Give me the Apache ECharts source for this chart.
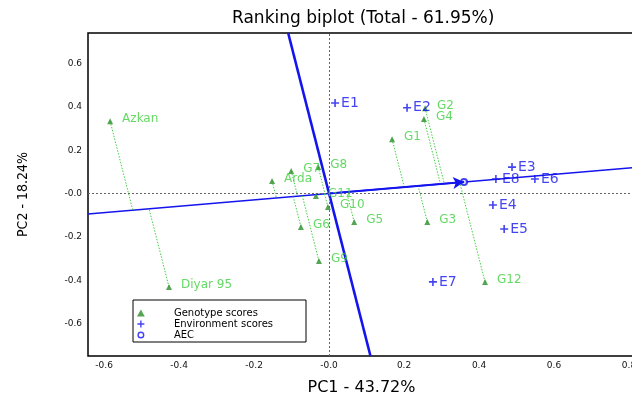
<!DOCTYPE html>
<html>
<head>
<meta charset="utf-8">
<script src="https://cdn.jsdelivr.net/npm/echarts@6/dist/echarts.min.js"></script>
<style>
html,body{margin:0;padding:0;background:#fff;}
#chart{width:632px;height:394px;}
</style>
</head>
<body>
<div id="chart"></div>
<script>
// ---- data ----
const genotypeNames = ['Azkan','Diyar 95','Arda','G1','G2','G3','G4','G5','G6','G7','G8','G9','G10','G11','G12'];
const genotypeX = [-0.584,-0.427,-0.152,0.168,0.256,0.262,0.253,0.067,-0.075,-0.101,-0.029,-0.027,-0.003,-0.035,0.416];
const genotypeY = [0.334,-0.431,0.058,0.251,0.394,-0.131,0.344,-0.131,-0.154,0.104,0.122,-0.312,-0.062,-0.011,-0.408];

const environmentNames = ['E1','E2','E3','E4','E5','E6','E7','E8'];
const environmentX = [0.016,0.208,0.488,0.437,0.467,0.549,0.277,0.445];
const environmentY = [0.418,0.396,0.122,-0.053,-0.164,0.067,-0.408,0.067];

const aecPoint = [0.36, 0.053];

const xTicks = [-0.6,-0.4,-0.2,0,0.2,0.4,0.6,0.8];
const yTicks = [-0.6,-0.4,-0.2,0,0.2,0.4,0.6];
const xRange = [-0.643, 0.816];
const yRange = [-0.750, 0.741];

const titleText = 'Ranking biplot (Total - 61.95%)';
const xName = 'PC1 - 43.72%';
const yName = 'PC2 - 18.24%';
const legendNames = ['Genotype scores','Environment scores','AEC'];

// ---- helpers ----
function tickFmt(v){ return Math.abs(v) < 1e-9 ? '-0.0' : v.toFixed(1); }
function project(p){
  const d = aecPoint[0]*aecPoint[0] + aecPoint[1]*aecPoint[1];
  const t = (p[0]*aecPoint[0] + p[1]*aecPoint[1]) / d;
  return [t*aecPoint[0], t*aecPoint[1]];
}
const slope = aecPoint[1]/aecPoint[0];
const abscissa = [[xRange[0], xRange[0]*slope],[xRange[1], xRange[1]*slope]];
const ordinate = [[-yRange[1]*slope, yRange[1]],[-yRange[0]*slope, yRange[0]]];

const genoPts = genotypeNames.map((n,i)=>[genotypeX[i], genotypeY[i]]);
const genoData = genotypeNames.map((n,i)=>({name:n, value:genoPts[i]}));
const envData = environmentNames.map((n,i)=>({name:n, value:[environmentX[i], environmentY[i]]}));
const projLines = genoPts.map(p=>[{coord:p},{coord:project(p)}]);

const FONT = "'DejaVu Sans', sans-serif";
const BLUE = '#1414ee';
const GREEN_LABEL = '#3fcf3f';
const GREEN_MARK = '#2a8f2a';
const plusPath = 'path://M4,0H6V4H10V6H6V10H4V6H0V4H4Z';
const triPath = 'path://M5,0L10,9L0,9Z';
const ringPath = 'path://M5,0A5,5,0,1,1,4.99,0ZM5,2A3,3,0,1,0,5.01,2Z';

const chart = echarts.init(document.getElementById('chart'));
chart.setOption({
  animation: false,
  backgroundColor: '#fff',
  title: {
    text: titleText, left: 232, top: 10, padding: 0,
    textStyle: {fontFamily: FONT, fontSize: 17, fontWeight: 'normal', color: '#000'}
  },
  grid: {
    left: 88, top: 33, right: -3, bottom: 38,
    show: true, borderColor: '#000', borderWidth: 1.5,
    outerBoundsMode: 'none', containLabel: false
  },
  legend: {
    orient: 'vertical', left: 133, top: 300,
    padding: [8, 33, 2, 4],
    itemWidth: 16, itemHeight: 7, itemGap: 1,
    borderColor: '#000', borderWidth: 1,
    selectedMode: false,
    textStyle: {fontFamily: FONT, fontSize: 10, color: '#000', lineHeight: 8, padding: [0,0,0,20]},
    data: [
      {name: legendNames[0], icon: triPath},
      {name: legendNames[1], icon: plusPath},
      {name: legendNames[2], icon: ringPath}
    ]
  },
  xAxis: {
    type: 'value', min: xRange[0], max: xRange[1],
    name: xName, nameLocation: 'middle', nameGap: 24,
    nameTextStyle: {fontFamily: FONT, fontSize: 16, color: '#000'},
    axisLine: {show: false}, axisTick: {show: false}, splitLine: {show: false},
    axisLabel: {customValues: xTicks, formatter: tickFmt, margin: 5, fontFamily: FONT, fontSize: 9, color: '#111'}
  },
  yAxis: {
    type: 'value', min: yRange[0], max: yRange[1],
    name: yName, nameLocation: 'middle', nameGap: 58,
    nameTextStyle: {fontFamily: "'Liberation Sans Narrow', 'DejaVu Sans Condensed', sans-serif", fontSize: 14, color: '#000'},
    axisLine: {show: false}, axisTick: {show: false}, splitLine: {show: false},
    axisLabel: {customValues: yTicks, formatter: tickFmt, margin: 6, fontFamily: FONT, fontSize: 9, color: '#111'}
  },
  series: [
    {
      name: 'zero', type: 'line', data: [], silent: true, z: 1,
      markLine: {
        silent: true, symbol: ['none','none'], label: {show: false},
        lineStyle: {color: '#666', type: [2,2], width: 1},
        data: [{xAxis: 0}, {yAxis: 0}]
      }
    },
    {
      name: 'projection', type: 'line', data: [], silent: true, z: 2,
      markLine: {
        silent: true, symbol: ['none','none'], label: {show: false},
        lineStyle: {color: '#44d044', type: [1.5,1.5], width: 1},
        data: projLines
      }
    },
    {
      name: 'AEC abscissa', type: 'line', data: abscissa, showSymbol: false, silent: true, z: 3,
      lineStyle: {color: BLUE, width: 1.6},
      markLine: {
        silent: true, symbol: ['none','arrow'], symbolSize: [9, 11], label: {show: false},
        lineStyle: {color: BLUE, width: 2, type: 'solid'},
        data: [[{coord: [0,0]}, {coord: aecPoint}]]
      }
    },
    {
      name: 'AEC ordinate', type: 'line', data: ordinate, showSymbol: false, silent: true, z: 3,
      lineStyle: {color: BLUE, width: 2.6}
    },
    {
      name: legendNames[2], type: 'scatter', z: 4,
      data: [aecPoint], symbol: 'emptyCircle', symbolSize: 6,
      itemStyle: {color: BLUE, borderWidth: 1.2}
    },
    {
      name: legendNames[0], type: 'scatter', z: 5,
      data: genoData, symbol: 'triangle', symbolSize: 6,
      itemStyle: {color: GREEN_MARK},
      label: {
        show: true, position: 'right', distance: 9, offset: [0,-2],
        formatter: p => p.name,
        fontFamily: FONT, fontSize: 12, color: GREEN_LABEL
      }
    },
    {
      name: legendNames[1], type: 'scatter', z: 6,
      data: envData, symbol: plusPath, symbolSize: 8,
      itemStyle: {color: BLUE},
      label: {
        show: true, position: 'right', distance: 2,
        formatter: p => p.name,
        fontFamily: FONT, fontSize: 14, color: BLUE
      }
    }
  ]
});
</script>
</body>
</html>
